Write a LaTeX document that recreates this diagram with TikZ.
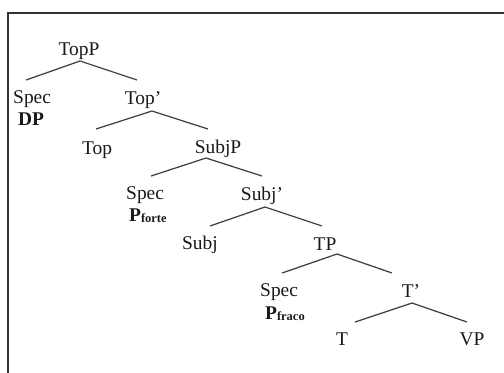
\documentclass[tikz,border=0pt]{standalone}
\usepackage{fontspec}
\setmainfont{Liberation Serif}
\begin{document}
\begin{tikzpicture}[x=1bp,y=-1bp,
  lbl/.style={inner sep=0pt, font=\fontsize{19.5}{23}\selectfont, text=black!90, anchor=base},
  br/.style={draw=black!75, line width=1.25bp},
  frame/.style={draw=black!80, line width=2bp}]
\useasboundingbox (0,0) rectangle (504,372);
\draw[frame] (8,373) -- (8,13) -- (505,13);
% nodes
\node[lbl] (TopP) at (79,55) {TopP};
\node[lbl, anchor=base west] (Spec1) at (13,103) {Spec};
\node[lbl, anchor=base west] (DP) at (18,125) {\textbf{DP}};
\node[lbl] (Topb) at (143,104) {Top’};
\node[lbl] (Top) at (97,154) {Top};
\node[lbl] (SubjP) at (218,153) {SubjP};
\node[lbl, anchor=base west] (Spec3) at (126,199) {Spec};
\node[lbl, anchor=base west] (Pforte) at (129,221) {\textbf{P}\raisebox{-1.5bp}{\fontsize{12.5}{14}\selectfont\textbf{forte}}};
\node[lbl] (Subjb) at (262,200) {Subj’};
\node[lbl] (Subj) at (200,249) {Subj};
\node[lbl] (TP) at (325,250) {TP};
\node[lbl, anchor=base west] (Spec2) at (260,296) {Spec};
\node[lbl, anchor=base west] (Pfraco) at (265,319) {\textbf{P}\raisebox{-1.5bp}{\fontsize{12.5}{14}\selectfont\textbf{fraco}}};
\node[lbl] (Tb) at (411,297) {T’};
\node[lbl] (T) at (342,345) {T};
\node[lbl] (VP) at (472,345) {VP};
% branches
\draw[br] ([xshift=-6bp,yshift=23bp]Spec1.base) -- ([xshift=1bp,yshift=-6bp]TopP.base) -- ([xshift=-6bp,yshift=24bp]Topb.base);
\draw[br] ([xshift=-1bp,yshift=25bp]Top.base) -- ([xshift=9bp,yshift=-7bp]Topb.base) -- ([xshift=-10bp,yshift=24bp]SubjP.base);
\draw[br] ([xshift=6bp,yshift=23bp]Spec3.base) -- ([xshift=-12bp,yshift=-5bp]SubjP.base) -- ([xshift=0bp,yshift=24bp]Subjb.base);
\draw[br] ([xshift=10bp,yshift=23bp]Subj.base) -- ([xshift=3bp,yshift=-7bp]Subjb.base) -- ([xshift=-3bp,yshift=24bp]TP.base);
\draw[br] ([xshift=3bp,yshift=23bp]Spec2.base) -- ([xshift=12bp,yshift=-4bp]TP.base) -- ([xshift=-19bp,yshift=24bp]Tb.base);
\draw[br] ([xshift=13bp,yshift=23bp]T.base) -- ([xshift=1bp,yshift=-6bp]Tb.base) -- ([xshift=-5bp,yshift=23bp]VP.base);
\end{tikzpicture}
\end{document}
